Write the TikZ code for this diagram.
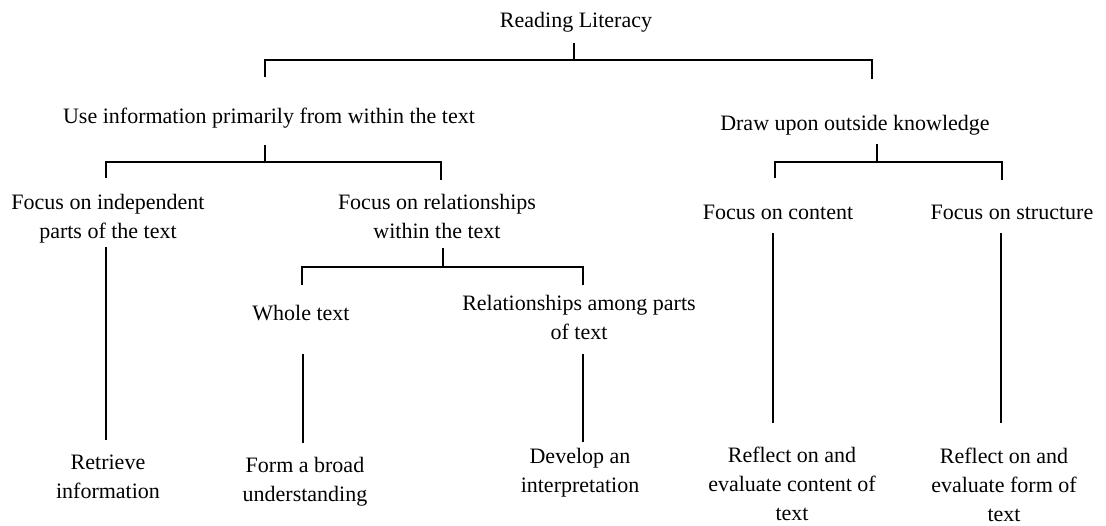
\documentclass[tikz,border=0pt]{standalone}
\usepackage{fontspec}
\setmainfont{Liberation Serif}
\begin{document}
\begin{tikzpicture}[x=1pt,y=-1pt,
  lbl/.style={inner sep=0pt, anchor=north, align=center, font=\fontsize{22}{29}\selectfont},
  conn/.style={draw=black, line width=1.2pt}]
\useasboundingbox (0,0) rectangle (1106,525);
% texts (north = first baseline - 20.3)
\node[lbl] (T)   at (576,6.7)   {\strut Reading Literacy};
\node[lbl] (A)   at (269,102.7) {\strut Use information primarily from within the text};
\node[lbl] (B)   at (855,109.7) {\strut Draw upon outside knowledge};
\node[lbl] (A1)  at (108,188.7) {\strut Focus on independent\\\strut parts of the text};
\node[lbl] (A2)  at (437,188.7) {\strut Focus on relationships\\\strut within the text};
\node[lbl] (B1)  at (778,198.7) {\strut Focus on content};
\node[lbl] (B2)  at (1012,198.7){\strut Focus on structure};
\node[lbl] (A21) at (301,299.7) {\strut Whole text};
\node[lbl] (A22) at (579,289.7) {\strut Relationships among parts\\\strut of text};
\node[lbl] (L1)  at (108,448.7) {\strut Retrieve\\\strut information};
\node[lbl] (L2)  at (305,451.7) {\strut Form a broad\\\strut understanding};
\node[lbl] (L3)  at (580,442.7) {\strut Develop an\\\strut interpretation};
\node[lbl] (L4)  at (792,441.7) {\strut Reflect on and\\\strut evaluate content of\\text};
\node[lbl] (L5)  at (1004,443.2){\strut Reflect on and\\\strut evaluate form of\\text};
% connector end points
\coordinate (tT) at (574,43);  \coordinate (jT) at (574,60);
\coordinate (tTl) at (265,60); \coordinate (eTl) at (265,77);
\coordinate (tTr) at (872,60); \coordinate (eTr) at (872,79);
\coordinate (tA) at (265,145); \coordinate (jA) at (265,162);
\coordinate (tAl) at (106,162); \coordinate (eAl) at (106,178);
\coordinate (tAr) at (441,162); \coordinate (eAr) at (441,180);
\coordinate (tB) at (877,144); \coordinate (jB) at (877,162);
\coordinate (tBl) at (775,162); \coordinate (eBl) at (775,178);
\coordinate (tBr) at (1002,162); \coordinate (eBr) at (1002,180);
\coordinate (tC) at (443,248); \coordinate (jC) at (443,267);
\coordinate (tCl) at (302,267); \coordinate (eCl) at (302,285);
\coordinate (tCr) at (583,267); \coordinate (eCr) at (583,285);
\coordinate (v1a) at (106,247); \coordinate (v1b) at (106,440);
\coordinate (v2a) at (303,354); \coordinate (v2b) at (303,443);
\coordinate (v3a) at (583,354); \coordinate (v3b) at (583,442);
\coordinate (v4a) at (773,233); \coordinate (v4b) at (773,423);
\coordinate (v5a) at (1001,233); \coordinate (v5b) at (1001,423);
% brackets
\draw[conn] (tT) -- (jT);
\draw[conn] (eTl) -- (tTl) -- (tTr) -- (eTr);
\draw[conn] (tA) -- (jA);
\draw[conn] (eAl) -- (tAl) -- (tAr) -- (eAr);
\draw[conn] (tB) -- (jB);
\draw[conn] (eBl) -- (tBl) -- (tBr) -- (eBr);
\draw[conn] (tC) -- (jC);
\draw[conn] (eCl) -- (tCl) -- (tCr) -- (eCr);
% verticals
\draw[conn] (v1a) -- (v1b);
\draw[conn] (v2a) -- (v2b);
\draw[conn] (v3a) -- (v3b);
\draw[conn] (v4a) -- (v4b);
\draw[conn] (v5a) -- (v5b);
\end{tikzpicture}
\end{document}
